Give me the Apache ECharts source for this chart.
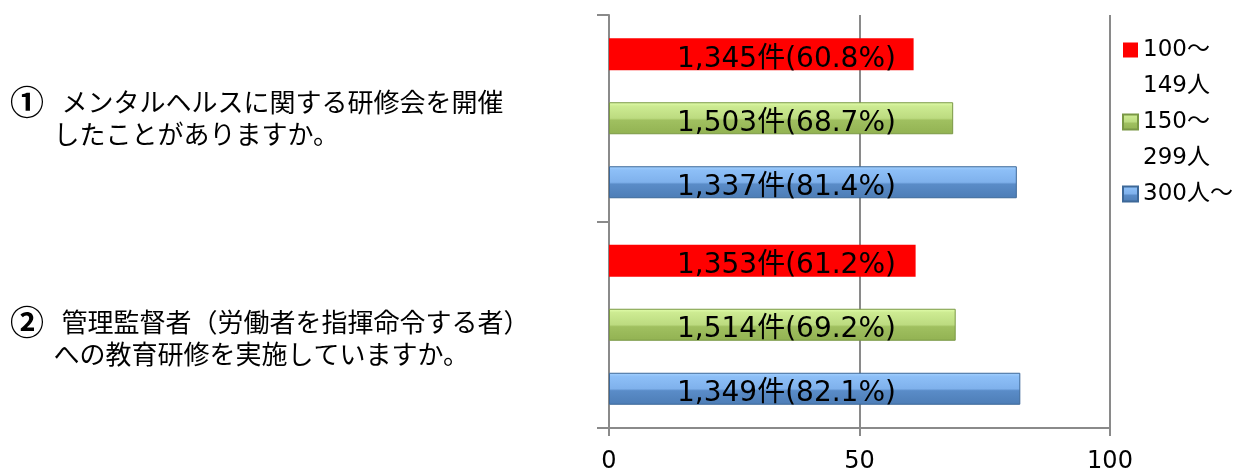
<!DOCTYPE html>
<html>
<head>
<meta charset="utf-8">
<script src="https://cdn.jsdelivr.net/npm/echarts@6/dist/echarts.min.js"></script>
<style>
html,body{margin:0;padding:0;background:#fff;}
#chart{width:1243px;height:475px;}
</style>
</head>
<body>
<div id="chart"></div>
<script>
// ---- data ----
const categoryMarks = ['①', '②'];
const categoryLine1 = ['メンタルヘルスに関する研修会を開催', '管理監督者（労働者を指揮命令する者）'];
const categoryLine2 = ['したことがありますか。', 'への教育研修を実施していますか。'];
const seriesNames = ['100〜\n149人', '150〜\n299人', '300人〜'];
const pct100 = [60.8, 61.2];
const pct150 = [68.7, 69.2];
const pct300 = [81.4, 82.1];
const cnt100 = [1345, 1353];
const cnt150 = [1503, 1514];
const cnt300 = [1337, 1349];
const xTicks = [0, 50, 100];

const categories = categoryLine1.map((t, i) => categoryMarks[i] + '|' + t + '|' + categoryLine2[i]);

// ---- styles ----
const gray = '#8a8a8a';
const latin = "'DejaVu Sans', 'Noto Sans CJK JP', sans-serif";
const cjk = "'Noto Sans CJK JP', sans-serif";

function grad(stops) {
  return new echarts.graphic.LinearGradient(0, 0, 0, 1, stops.map(s => ({offset: s[0], color: s[1]})));
}
const colors = [
  '#ff0000',
  grad([[0, '#e4ffae'], [0.12, '#cdeb92'], [0.5, '#bcdb80'], [0.56, '#a0c060'], [1, '#92b252']]),
  grad([[0, '#a6d2ff'], [0.12, '#8dbff7'], [0.5, '#7fb1ec'], [0.56, '#5a8cc8'], [1, '#4d7db6']])
];
const borders = ['#ff0000', '#7a9845', '#3d6898'];

function mkSeries(i, pct, cnt) {
  return {
    name: seriesNames[i],
    type: 'bar',
    data: pct,
    barWidth: 32,
    barGap: '100%',
    itemStyle: {color: colors[i], borderColor: borders[i], borderWidth: i === 0 ? 0 : 1},
    label: {
      show: true,
      position: [68, '50%'],
      offset: [0, 5],
      align: 'left',
      verticalAlign: 'middle',
      color: '#000',
      fontSize: 28,
      fontFamily: latin,
      formatter: p => cnt[p.dataIndex].toLocaleString('en-US') + '件(' + p.value.toFixed(1) + '%)'
    }
  };
}

const chart = echarts.init(document.getElementById('chart'));
chart.setOption({
  animation: false,
  backgroundColor: '#fff',
  grid: {left: 609, right: 133, top: 15, bottom: 47, containLabel: false},
  legend: {
    orient: 'vertical',
    left: 1122,
    top: -4,
    padding: 0,
    itemWidth: 15,
    itemHeight: 15,
    itemGap: -36,
    icon: 'rect',
    data: seriesNames,
    formatter: n => '\n' + n + (n.indexOf('\n') >= 0 ? '' : '\n '),
    textStyle: {fontSize: 23, lineHeight: 36, color: '#000', fontFamily: latin}
  },
  xAxis: {
    type: 'value',
    min: 0, max: 100, interval: 50,
    axisLine: {show: true, lineStyle: {color: gray, width: 2}},
    axisTick: {show: true, length: 8, lineStyle: {color: gray, width: 2}},
    splitLine: {show: true, lineStyle: {color: gray, width: 2}},
    axisLabel: {
      color: '#000', fontSize: 24, fontFamily: latin, margin: 22,
      customValues: xTicks
    }
  },
  yAxis: {
    type: 'category',
    inverse: true,
    data: categories,
    axisLine: {show: true, lineStyle: {color: gray, width: 2}},
    axisTick: {show: true, length: 12, lineStyle: {color: gray, width: 2}},
    axisLabel: {
      margin: 599,
      align: 'left',
      color: '#000',
      fontSize: 26,
      lineHeight: 32,
      fontFamily: cjk,
      formatter: (v, i) => {
        const parts = v.split('|');
        return (i === 1 ? '{e| }\n' : '') + '{m|' + parts[0] + '}{t|   ' + parts[1] + '}\n{t|　   ' + parts[2] + '}';
      },
      rich: {
        e: {fontSize: 26, fontFamily: cjk, lineHeight: 26},
        m: {fontSize: 34, fontWeight: 'bold', fontFamily: cjk, color: '#000', lineHeight: 32},
        t: {fontSize: 26, fontFamily: cjk, color: '#000', lineHeight: 32}
      }
    }
  },
  series: [
    mkSeries(0, pct100, cnt100),
    mkSeries(1, pct150, cnt150),
    mkSeries(2, pct300, cnt300)
  ]
});
</script>
</body>
</html>
